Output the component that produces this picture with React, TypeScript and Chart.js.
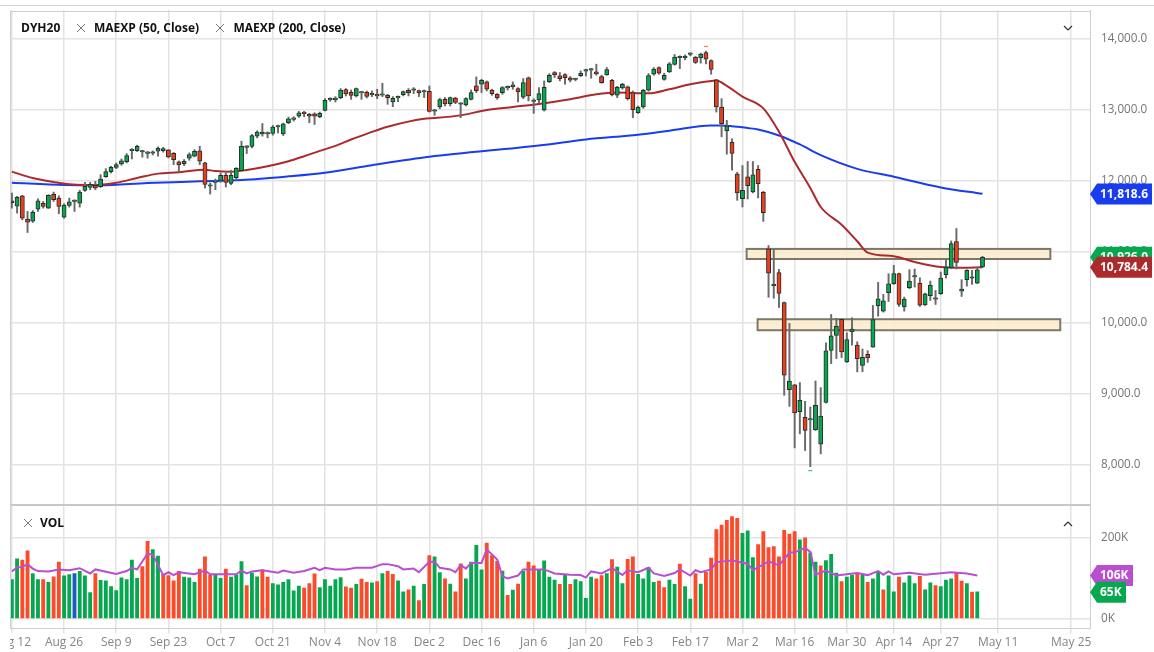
import React, { useEffect, useRef } from 'react';
import { Chart, registerables } from 'chart.js';

Chart.register(...registerables);

const FONT = '"Open Sans", sans-serif';

const opens = [
  11722, 11646, 11792, 11462, 11434, 11604, 11684, 11618, 11811, 11759,
  11490, 11656, 11712, 11689, 11868, 11910, 11939, 11920, 12061, 12132,
  12193, 12241, 12274, 12428, 12429, 12410, 12390, 12392, 12420, 12429,
  12439, 12391, 12269, 12245, 12321, 12349, 12424, 12255, 11928, 11981,
  12009, 12080, 11967, 12047, 12146, 12475, 12486, 12632, 12665, 12664,
  12670, 12763, 12665, 12821, 12868, 12915, 12972, 12939, 12948, 12906,
  12995, 13145, 13146, 13174, 13288, 13250, 13198, 13240, 13250, 13213,
  13222, 13210, 13208, 13114, 13172, 13217, 13279, 13280, 13274, 13256,
  13265, 12984, 13043, 13151, 13090, 13170, 13082, 13071, 13151, 13340,
  13364, 13397, 13283, 13222, 13246, 13313, 13354, 13302, 13180, 13453,
  13120, 13142, 13001, 13401, 13529, 13481, 13500, 13453, 13431, 13486,
  13549, 13563, 13538, 13472, 13496, 13420, 13208, 13312, 13326, 13246,
  12963, 13043, 13279, 13505, 13599, 13430, 13538, 13642, 13738, 13738,
  13785, 13745, 13736, 13811, 13698, 13425, 13043, 12708, 12548, 12096,
  11751, 12058, 11846, 12166, 11841, 11044, 10525, 10710, 10285, 9060,
  9126, 8749, 8668, 8632, 8494, 8291, 8881, 9611, 9823, 10050,
  9451, 9875, 9687, 9402, 9558, 9657, 10241, 10166, 10425, 10552,
  10694, 10227, 10496, 10648, 10557, 10255, 10383, 10334, 10411, 10680,
  10774, 11146, 10449, 10609, 10630, 10562, 10788,
];
const highs = [
  11830, 11783, 11797, 11571, 11585, 11750, 11712, 11807, 11844, 11792,
  11679, 11759, 11736, 11868, 11981, 11981, 11995, 12090, 12174, 12208,
  12255, 12311, 12387, 12458, 12505, 12434, 12415, 12424, 12481, 12476,
  12443, 12401, 12283, 12302, 12396, 12443, 12490, 12264, 11972, 12028,
  12113, 12137, 12151, 12189, 12561, 12500, 12656, 12707, 12811, 12693,
  12783, 12788, 12816, 12901, 12906, 12981, 12981, 12953, 12962, 12972,
  13160, 13174, 13189, 13302, 13302, 13283, 13311, 13264, 13269, 13269,
  13293, 13378, 13222, 13189, 13199, 13269, 13302, 13316, 13283, 13283,
  13340, 13010, 13166, 13175, 13184, 13180, 13104, 13175, 13283, 13467,
  13434, 13411, 13293, 13232, 13331, 13340, 13397, 13316, 13444, 13467,
  13161, 13316, 13411, 13514, 13543, 13529, 13514, 13472, 13448, 13552,
  13576, 13585, 13646, 13491, 13599, 13434, 13335, 13378, 13340, 13269,
  13057, 13293, 13514, 13599, 13609, 13519, 13670, 13783, 13764, 13778,
  13807, 13755, 13802, 13830, 13708, 13434, 13161, 12854, 12595, 12124,
  12218, 12275, 12275, 12218, 11855, 11091, 11030, 10757, 10295, 9993,
  9135, 9159, 8895, 8815, 9182, 9088, 9720, 10120, 10064, 10054,
  9861, 10073, 9734, 9633, 9609, 10246, 10571, 10401, 10694, 10811,
  10703, 10364, 10750, 10760, 10637, 10420, 10590, 10458, 10717, 10892,
  11156, 11330, 10609, 10750, 10741, 10788, 10939,
];
const lows = [
  11618, 11547, 11453, 11274, 11415, 11571, 11618, 11613, 11712, 11538,
  11476, 11632, 11571, 11632, 11854, 11877, 11877, 11910, 12052, 12113,
  12174, 12222, 12255, 12311, 12415, 12335, 12321, 12368, 12349, 12406,
  12325, 12231, 12137, 12217, 12292, 12340, 12231, 11901, 11816, 11877,
  11981, 11915, 11948, 12009, 12137, 12387, 12467, 12608, 12632, 12608,
  12646, 12679, 12641, 12807, 12844, 12896, 12906, 12821, 12797, 12891,
  12986, 13123, 13113, 13160, 13198, 13151, 13184, 13151, 13170, 13189,
  13161, 13189, 13081, 13048, 13118, 13199, 13199, 13232, 13189, 13175,
  12972, 12925, 13019, 13057, 13057, 13090, 12892, 13057, 13142, 13246,
  13246, 13269, 13208, 13151, 13222, 13283, 13293, 13114, 13161, 13128,
  12953, 13104, 12986, 13387, 13458, 13411, 13364, 13397, 13411, 13472,
  13481, 13448, 13491, 13378, 13491, 13199, 13175, 13293, 13142, 12892,
  12953, 13024, 13265, 13491, 13505, 13420, 13529, 13632, 13585, 13708,
  13764, 13656, 13661, 13651, 13505, 12972, 12623, 12378, 12152, 11728,
  11634, 11747, 11832, 11761, 11431, 10361, 10347, 10219, 8980, 8824,
  8239, 8437, 8202, 7975, 8485, 8155, 8871, 9427, 9498, 9512,
  9442, 9687, 9310, 9312, 9444, 9657, 10095, 10152, 10302, 10543,
  10232, 10166, 10482, 10505, 10232, 10246, 10317, 10260, 10401, 10632,
  10764, 10760, 10373, 10519, 10543, 10552, 10778,
];
const closes = [
  11693, 11769, 11476, 11420, 11557, 11722, 11641, 11797, 11736, 11641,
  11660, 11707, 11722, 11844, 11924, 11953, 11901, 12028, 12132, 12193,
  12231, 12283, 12358, 12434, 12490, 12415, 12396, 12406, 12462, 12458,
  12340, 12302, 12226, 12278, 12373, 12420, 12278, 11953, 11934, 11995,
  12080, 11981, 12080, 12179, 12490, 12481, 12641, 12689, 12689, 12670,
  12759, 12769, 12807, 12877, 12891, 12962, 12948, 12915, 12915, 12953,
  13137, 13151, 13170, 13283, 13226, 13207, 13302, 13245, 13193, 13236,
  13199, 13215, 13175, 13166, 13178, 13260, 13246, 13286, 13241, 13262,
  12982, 12990, 13147, 13085, 13175, 13109, 13088, 13161, 13246, 13274,
  13420, 13293, 13232, 13175, 13316, 13319, 13326, 13255, 13387, 13199,
  13126, 13232, 13321, 13491, 13496, 13444, 13458, 13420, 13437, 13519,
  13555, 13569, 13510, 13387, 13571, 13217, 13321, 13364, 13161, 13005,
  13043, 13279, 13486, 13576, 13519, 13491, 13651, 13745, 13744, 13744,
  13791, 13670, 13788, 13717, 13571, 13043, 12807, 12779, 12388, 11832,
  11869, 11935, 12086, 11964, 11553, 10700, 10530, 10417, 9262, 9182,
  8730, 8909, 8485, 8638, 8838, 8687, 9607, 9819, 9951, 9592,
  9767, 9913, 9498, 9515, 9506, 10048, 10340, 10312, 10552, 10694,
  10260, 10335, 10590, 10654, 10251, 10411, 10533, 10340, 10632, 10788,
  11118, 10854, 10477, 10741, 10636, 10750, 10926,
];

const ema50Index = [
  0, 4, 8, 11, 14, 17, 20, 24, 28, 32, 37, 39, 42, 45, 49, 53, 56, 59, 62, 65,
  68, 72, 79, 81, 86, 91, 96, 101, 107, 112, 116, 122, 126, 130, 134, 135, 137,
  140, 144, 147, 150, 153, 155, 159, 162, 164, 169, 173, 178, 182, 186,
];
const ema50 = [
  12132, 12042, 11986, 11953, 11943, 11948, 11976, 12042, 12104, 12123, 12160, 12141, 12132, 12156, 12207, 12278, 12349, 12425, 12495, 12585,
  12665, 12765, 12878, 12887, 12925, 13001, 13043, 13086, 13151, 13222, 13246, 13236, 13293, 13364, 13411, 13415, 13340,
  13189, 13024, 12694, 12270, 11902, 11634, 11384, 11151, 10991, 10939, 10859, 10788, 10778, 10784,
];
const ema200Index = [0, 10, 17, 26, 36, 44, 53, 60, 69, 80, 101, 110, 120, 126, 134, 136, 141, 143, 147, 151, 155, 162, 169, 178, 186];
const ema200 = [
  11976, 11943, 11939, 11972, 11995, 12014, 12066, 12118, 12223, 12341, 12501, 12586, 12652, 12708, 12784, 12784, 12746, 12727, 12642, 12515, 12364, 12171, 12061, 11910, 11819,
];

const volumes = [
  96, 147, 144, 167, 111, 96, 96, 89, 103, 139,
  105, 108, 111, 116, 105, 64, 111, 94, 93, 79,
  69, 100, 96, 144, 99, 128, 190, 170, 154, 109,
  106, 93, 116, 102, 100, 89, 122, 152, 107, 107,
  99, 122, 102, 107, 140, 81, 112, 103, 120, 102,
  86, 83, 89, 96, 68, 80, 75, 86, 110, 76,
  96, 80, 96, 101, 78, 75, 84, 97, 89, 88,
  91, 111, 116, 109, 93, 66, 71, 80, 44, 84,
  155, 152, 113, 98, 85, 66, 135, 98, 139, 180,
  120, 186, 155, 141, 117, 57, 70, 85, 116, 139,
  130, 120, 142, 102, 95, 84, 109, 84, 96, 91,
  50, 102, 98, 106, 111, 145, 127, 86, 146, 152,
  109, 98, 126, 89, 92, 76, 95, 84, 134, 79,
  48, 111, 85, 114, 149, 219, 230, 242, 251, 247,
  210, 216, 150, 182, 214, 175, 177, 152, 217, 208,
  214, 194, 199, 162, 139, 130, 143, 158, 112, 91,
  102, 107, 109, 107, 89, 98, 114, 71, 105, 66,
  102, 88, 105, 86, 104, 71, 88, 81, 79, 95,
  98, 112, 92, 86, 65, 66,
];
const volumeSides = [
  'ggrrggrgrr', 'ggbgggrggg', 'gggggrrggr', 'rrrgggrrrg', 'grgggrggrr',
  'ggggggrrrg', 'ggggrrgrrg', 'rgrrggrgrg', 'rggrgrrggg', 'grrrgrgrgr',
  'rggggrgrgg', 'ggrrgrggrr', 'ggggrrggrg', 'grgrrrrrrr', 'gggrrrrrrr',
  'rgrggrgggr', 'ggrgrggrgg', 'rgggrggrgg', 'grrgrg',
].join('');
const volMaIndex = [
  0, 1, 2, 3, 4, 5, 7, 9, 11, 13, 15, 16, 20, 22, 23, 24, 26, 27, 29, 30, 31, 32, 35, 37, 38, 43, 44, 45, 46, 48,
  51, 52, 54, 56, 58, 59, 60, 62, 64, 66, 69, 71, 72, 74, 75, 77, 78, 80, 81, 82, 84, 85, 86, 87, 88, 90, 91, 93, 94, 95,
  97, 98, 100, 102, 104, 107, 109, 110, 111, 113, 115, 117, 118, 120, 122, 123, 125, 127, 128, 130, 131, 132, 134, 135, 138, 141, 142, 143,
  145, 147, 149, 150, 152, 153, 154, 156, 158, 162, 164, 166, 167, 168, 169, 172, 175, 180, 183, 185,
];
const volMa = [
  116, 126, 127, 134, 123, 117, 116, 121, 119, 124, 111, 121, 110, 117, 125, 121, 160, 157, 107, 114, 107, 114, 109, 118, 109, 109, 118, 111, 116, 119,
  113, 118, 113, 117, 125, 119, 125, 121, 121, 125, 125, 134, 134, 129, 121, 123, 114, 140, 140, 125, 121, 114, 132, 123, 137, 137, 170, 145, 104, 99,
  106, 121, 121, 121, 111, 108, 107, 101, 116, 111, 124, 107, 119, 114, 125, 111, 105, 112, 121, 106, 119, 114, 121, 139, 143, 135, 119, 126,
  141, 131, 162, 163, 174, 164, 108, 118, 106, 112, 107, 117, 108, 116, 109, 113, 108, 114, 111, 106,
];

const dateTicks = [0, 10, 20, 30, 40, 50, 60, 70, 80, 90, 100, 110, 120, 130, 140, 150, 160, 169, 178, 189, 203];
const dateLabels = [
  'Aug 12', 'Aug 26', 'Sep 9', 'Sep 23', 'Oct 7', 'Oct 21', 'Nov 4', 'Nov 18', 'Dec 2', 'Dec 16', 'Jan 6',
  'Jan 20', 'Feb 3', 'Feb 17', 'Mar 2', 'Mar 16', 'Mar 30', 'Apr 14', 'Apr 27', 'May 11', 'May 25',
];
const priceTicks = [8000, 9000, 10000, 11000, 12000, 13000, 14000];
const volumeTicks = [0, 200];

// the two drawn supply / demand boxes, [from bar, to bar, low, high]
const zones = [
  [140.8, 199, 10901, 11043],
  [142.9, 200.9, 9897, 10052],
];

// the little high / low flags the platform leaves at the extremes
const extremeIndex = [133, 153];
const extremeValues = [13896, 7919];
const extremeColors = ['#f08a76', '#5cc48c'];

const GREEN = '#06a84f';
const RED = '#e8401f';
const VOL_RED = '#fb4b2b';
const GRID = '#e3e3e3';
const AXIS = '#cfcfcf';
const TICK_TEXT = '#757575';

const xMin = -0.36;
const xMax = 206.6;

function drawTag(ctx: CanvasRenderingContext2D, left: number, right: number, y: number, color: string, text: string) {
  ctx.fillStyle = color;
  ctx.beginPath();
  ctx.moveTo(left, y);
  ctx.lineTo(left + 7, y - 10.5);
  ctx.lineTo(right, y - 10.5);
  ctx.lineTo(right, y + 10.5);
  ctx.lineTo(left + 7, y + 10.5);
  ctx.closePath();
  ctx.fill();
  ctx.fillStyle = '#fff';
  ctx.font = `bold 12px ${FONT}`;
  ctx.textAlign = 'left';
  ctx.textBaseline = 'middle';
  ctx.fillText(text, left + 10, y + 0.5);
}

const zonePlugin = {
  id: 'zones',
  beforeDatasetsDraw(chart: any) {
    const { ctx, scales } = chart;
    ctx.save();
    zones.forEach(([from, to, low, high]) => {
      const x0 = scales.x.getPixelForValue(from);
      const x1 = scales.x.getPixelForValue(to);
      const y0 = scales.y.getPixelForValue(high);
      const y1 = scales.y.getPixelForValue(low);
      ctx.fillStyle = 'rgba(252,236,207,0.88)';
      ctx.strokeStyle = '#7d7768';
      ctx.lineWidth = 2;
      ctx.fillRect(x0, y0, x1 - x0, y1 - y0);
      ctx.strokeRect(x0, y0, x1 - x0, y1 - y0);
    });
    ctx.restore();
  },
};

const priceTagPlugin = {
  id: 'priceTags',
  afterDraw(chart: any) {
    const { ctx, chartArea, scales } = chart;
    ctx.save();
    drawTag(ctx, chartArea.right, chart.width - 2, scales.y.getPixelForValue(11818.6), '#1a3cf0', '11,818.6');
    drawTag(ctx, chartArea.right, chart.width - 2, scales.y.getPixelForValue(10926), GREEN, '10,926.0');
    drawTag(ctx, chartArea.right, chart.width - 2, scales.y.getPixelForValue(10784.4), '#ad2a2c', '10,784.4');
    ctx.restore();
  },
};

const volumeTagPlugin = {
  id: 'volumeTags',
  afterDraw(chart: any) {
    const { ctx, chartArea, scales } = chart;
    ctx.save();
    drawTag(ctx, chartArea.right, chartArea.right + 43, scales.y.getPixelForValue(106), '#b94fd0', '106K');
    drawTag(ctx, chartArea.right, chartArea.right + 36, scales.y.getPixelForValue(65), GREEN, '65K');
    ctx.restore();
  },
};

function xScale(showLabels: boolean) {
  return {
    type: 'linear',
    min: xMin,
    max: xMax,
    offset: false,
    afterBuildTicks(scale: any) {
      scale.ticks = dateTicks.map(value => ({ value }));
    },
    afterFit(scale: any) {
      scale.paddingLeft = 0;
      scale.paddingRight = 0;
      if (!showLabels) scale.height = 0;
    },
    grid: { color: GRID, lineWidth: 1.5, offset: false, drawTicks: showLabels, tickLength: 5 },
    border: { color: AXIS, display: showLabels },
    ticks: {
      display: showLabels,
      autoSkip: false,
      maxRotation: 0,
      padding: 2,
      color: '#858585',
      font: { family: FONT, size: 12 },
      callback: (value: number) => dateLabels[dateTicks.indexOf(value)],
    },
  };
}

function yScale(min: number, max: number, ticks: number[], format: (v: number) => string) {
  return {
    type: 'linear',
    position: 'right',
    min,
    max,
    afterBuildTicks(scale: any) {
      scale.ticks = ticks.map(value => ({ value }));
    },
    afterFit(scale: any) {
      scale.width = 64;
      scale.paddingTop = 0;
      scale.paddingBottom = 0;
    },
    grid: { color: GRID, lineWidth: 1.5, drawTicks: false },
    border: { color: AXIS },
    ticks: {
      padding: 11,
      color: TICK_TEXT,
      font: { family: FONT, size: 11.7 },
      callback: format,
    },
  };
}

const baseOptions = {
  responsive: false,
  animation: false,
  devicePixelRatio: 1,
  layout: { padding: 0 },
  plugins: { legend: { display: false }, tooltip: { enabled: false } },
  events: [],
};

const lineStyle = { type: 'line', pointRadius: 0, fill: false, tension: 0 };

function Label({ x, y, children, color = '#111' }: { x: number; y: number; children: React.ReactNode; color?: string }) {
  return (
    <div
      style={{
        position: 'absolute',
        left: x,
        top: y - 9,
        height: 18,
        whiteSpace: 'nowrap',
        font: `bold 12px/18px ${FONT}`,
        color,
      }}
    >
      {children}
    </div>
  );
}

function Cross({ x, y }: { x: number; y: number }) {
  return (
    <svg style={{ position: 'absolute', left: x - 5, top: y - 5 }} width={10} height={10}>
      <path d="M1 1 L9 9 M9 1 L1 9" stroke="#6f7a85" strokeWidth={1} fill="none" />
    </svg>
  );
}

function Chevron({ x, y, up }: { x: number; y: number; up?: boolean }) {
  return (
    <svg style={{ position: 'absolute', left: x - 5, top: y - 3 }} width={10} height={6}>
      <path d={up ? 'M1 5 L5 1 L9 5' : 'M1 1 L5 5 L9 1'} stroke="#333" strokeWidth={1.2} fill="none" />
    </svg>
  );
}

function Line({ x, y, w, h, color = AXIS }: { x: number; y: number; w: number; h: number; color?: string }) {
  return <div style={{ position: 'absolute', left: x, top: y, width: w, height: h, background: color }} />;
}

export default function App() {
  const priceRef = useRef<HTMLCanvasElement>(null);
  const volumeRef = useRef<HTMLCanvasElement>(null);

  useEffect(() => {
    if (!priceRef.current || !volumeRef.current) return;

    const priceChart = new Chart(priceRef.current, {
      type: 'bar',
      data: {
        datasets: [
          {
            data: opens.map((o, i) => ({ x: i, y: [o, closes[i]] })),
            grouped: false,
            order: 1,
            barThickness: 4.2,
            minBarLength: 1.4,
            borderWidth: 1,
            borderSkipped: false,
            borderColor: '#2a2a2a',
            backgroundColor: opens.map((o, i) => (closes[i] >= o ? GREEN : RED)),
          },
          {
            data: lows.map((l, i) => ({ x: i, y: [l, highs[i]] })),
            grouped: false,
            order: 2,
            barThickness: 1.3,
            backgroundColor: '#6a6a6a',
          },
          {
            // a line dataset with points would pad the layout, so these are flat bars
            data: extremeValues.map((v, i) => ({ x: extremeIndex[i], y: [v - 5, v + 5] })),
            grouped: false,
            order: 0,
            barThickness: 3.5,
            backgroundColor: extremeColors,
          },
          {
            ...lineStyle,
            data: ema50.map((y, i) => ({ x: ema50Index[i], y })),
            order: 3,
            cubicInterpolationMode: 'monotone',
            borderColor: '#ad2a2c',
            borderWidth: 2,
          },
          {
            ...lineStyle,
            data: ema200.map((y, i) => ({ x: ema200Index[i], y })),
            order: 4,
            cubicInterpolationMode: 'monotone',
            borderColor: '#1a3cf0',
            borderWidth: 2,
          },
        ],
      } as any,
      options: {
        ...baseOptions,
        scales: {
          x: xScale(false),
          y: yScale(7420, 14410, priceTicks, v => v.toLocaleString('en-US', { minimumFractionDigits: 1 })),
        },
      } as any,
      plugins: [zonePlugin, priceTagPlugin],
    });

    const volumeChart = new Chart(volumeRef.current, {
      type: 'bar',
      data: {
        datasets: [
          {
            data: volumes.map((y, i) => ({ x: i, y })),
            grouped: false,
            order: 2,
            barThickness: 3.2,
            backgroundColor: volumes.map((_, i) =>
              volumeSides[i] === 'g' ? GREEN : volumeSides[i] === 'r' ? VOL_RED : '#1f57c3',
            ),
          },
          {
            ...lineStyle,
            data: volMa.map((y, i) => ({ x: volMaIndex[i], y })),
            order: 1,
            borderColor: '#b94fd0',
            borderWidth: 2,
          },
        ],
      } as any,
      options: {
        ...baseOptions,
        scales: {
          x: xScale(true),
          y: yScale(-24.7, 282, volumeTicks, v => `${v}K`),
        },
      } as any,
      plugins: [volumeTagPlugin],
    });

    return () => {
      priceChart.destroy();
      volumeChart.destroy();
    };
  }, []);

  return (
    <div style={{ position: 'absolute', left: 0, top: 0, width: 1154, height: 652, background: '#fff', overflow: 'hidden' }}>
      {/* line datasets inset the plot by 1px, so the canvases start 1px early */}
      <canvas ref={priceRef} width={1144} height={496} style={{ position: 'absolute', left: 10, top: 10, display: 'block' }} />
      <canvas ref={volumeRef} width={1144} height={148} style={{ position: 'absolute', left: 10, top: 504, display: 'block' }} />
      <Line x={0} y={5} w={1154} h={1} />
      <Line x={10} y={11} w={1080} h={1} />
      <Line x={10} y={11} w={1} h={618} />
      <Line x={11} y={504} w={1079} h={2} color="#c8c8c8" />
      <Label x={21} y={28}>DYH20</Label>
      <Cross x={81} y={28} />
      <Label x={94} y={28}>MAEXP (50, Close)</Label>
      <Cross x={220} y={28} />
      <Label x={233.5} y={28}>MAEXP (200, Close)</Label>
      <Chevron x={1068} y={28} />
      <Cross x={27.5} y={523} />
      <Label x={40} y={523}>VOL</Label>
      <Chevron x={1068} y={524} up />
    </div>
  );
}
